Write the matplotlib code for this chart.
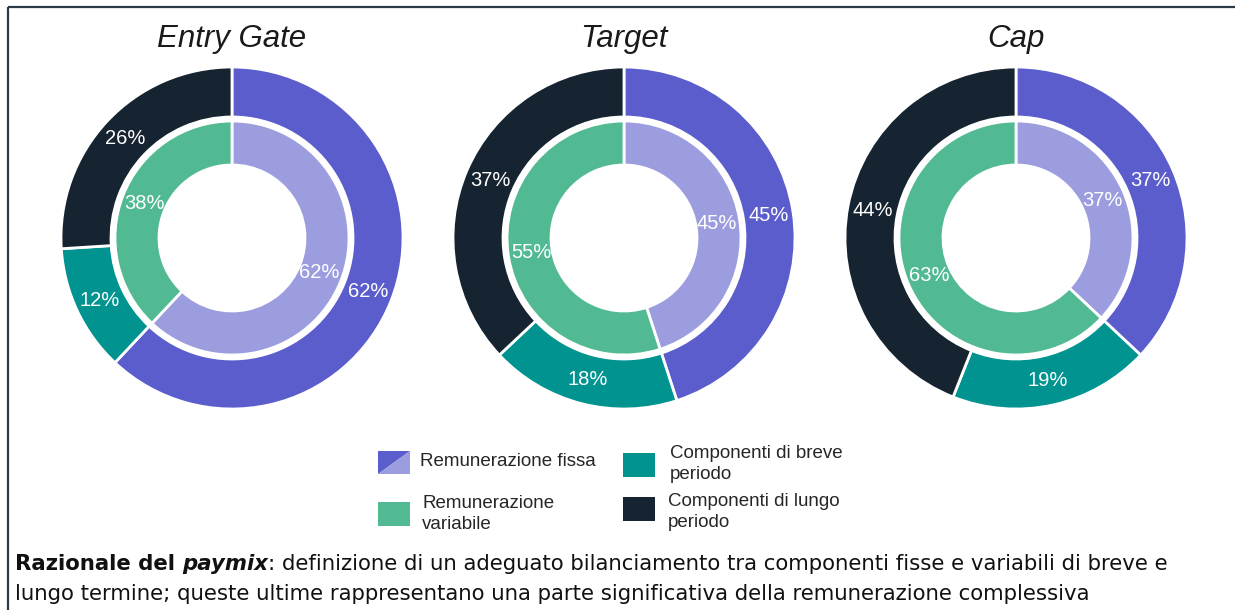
import matplotlib.pyplot as plt
from matplotlib.patches import Rectangle, Polygon

plt.rcParams['font.family'] = ['Liberation Sans', 'DejaVu Sans']

# data
scenarios = ['Entry Gate', 'Target', 'Cap']
fixed = [62, 45, 37]
short_term = [12, 18, 19]
long_term = [26, 37, 44]
variable = [38, 55, 63]

legend_labels = ['Remunerazione fissa', 'Remunerazione\nvariabile',
                 'Componenti di breve\nperiodo', 'Componenti di lungo\nperiodo']

c_fixed = '#5b5dcc'
c_fixed_in = '#9c9ddf'
c_short = '#00938f'
c_long = '#162330'
c_var = '#52ba93'
txt = '#262626'

W, H = 1235, 610
fig = plt.figure(figsize=(W / 100, H / 100), dpi=100)
fig.patch.set_facecolor('white')

# overlay axes in pixel coords for titles, legend, note
bg = fig.add_axes([0, 0, 1, 1])
bg.set_xlim(0, W)
bg.set_ylim(H, 0)
bg.axis('off')

# frame
bg.add_patch(Rectangle((8, 7), 1400, 800, fill=False, edgecolor='#2d3b47', lw=1.6))

R = 171
cy = 238
centers = [232, 624, 1016]

for i, name in enumerate(scenarios):
    cx = centers[i]
    ax = fig.add_axes([(cx - R) / W, (H - cy - R) / H, 2 * R / W, 2 * R / H])
    ax.pie([fixed[i], short_term[i], long_term[i]], radius=1,
           colors=[c_fixed, c_short, c_long], startangle=90, counterclock=False,
           wedgeprops=dict(width=50 / R, edgecolor='white', linewidth=2),
           autopct='%.0f%%', pctdistance=146 / R,
           textprops=dict(color='white', fontsize=14.5))
    r_in = 117 / R
    ax.pie([fixed[i], variable[i]], radius=r_in,
           colors=[c_fixed_in, c_var], startangle=90, counterclock=False,
           wedgeprops=dict(width=44 / R, edgecolor='white', linewidth=2),
           autopct='%.0f%%', pctdistance=(94 / R) / r_in,
           textprops=dict(color='white', fontsize=14.5))
    ax.set_xlim(-1, 1)
    ax.set_ylim(-1, 1)
    bg.text(cx, 47, name, ha='center', va='baseline', fontsize=22.5,
            style='italic', color='#1a1a1a')

# legend (manual)
x0, x1, y0, y1 = 378, 410, 451, 474
bg.add_patch(Polygon([(x0, y0), (x1, y0), (x0, y1)], closed=True, color=c_fixed, lw=0))
bg.add_patch(Polygon([(x1, y0), (x1, y1), (x0, y1)], closed=True, color=c_fixed_in, lw=0))
bg.add_patch(Rectangle((378, 502), 32, 24, color=c_var, lw=0))
bg.add_patch(Rectangle((623, 453), 32, 24, color=c_short, lw=0))
bg.add_patch(Rectangle((623, 497), 32, 24, color=c_long, lw=0))

leg_pos = [(420, 462), (422, 514), (670, 464), (668, 512)]
for (lx, ly), lab in zip(leg_pos, legend_labels):
    bg.text(lx, ly, lab, ha='left', va='center', fontsize=13.5, color=txt,
            linespacing=1.33)

# bottom note with mixed styles
renderer = fig.canvas.get_renderer()
fs = 15.3
nfont = ['DejaVu Sans']


def width_of(s, **kw):
    t = bg.text(0, 0, s, fontsize=fs, family=nfont, **kw)
    w = t.get_window_extent(renderer).width
    t.remove()
    return w


space = width_of('x x') - width_of('xx')

runs = [('Razionale del', 'bold', 'normal', True),
        ('paymix', 'bold', 'italic', False),
        (':', 'normal', 'normal', True),
        ('definizione di un adeguato bilanciamento tra componenti fisse e variabili di breve e',
         'normal', 'normal', False)]
x = 15
for s, wgt, sty, gap in runs:
    t = bg.text(x, 570, s, fontsize=fs, fontweight=wgt, fontstyle=sty, family=nfont,
                ha='left', va='baseline', color='#111111')
    x = t.get_window_extent(renderer).x1 + (space if gap else 0)

bg.text(15, 600, 'lungo termine; queste ultime rappresentano una parte significativa della remunerazione complessiva',
        fontsize=fs, family=nfont, ha='left', va='baseline', color='#111111')

fig.savefig('out.png', dpi=100, facecolor='white')
